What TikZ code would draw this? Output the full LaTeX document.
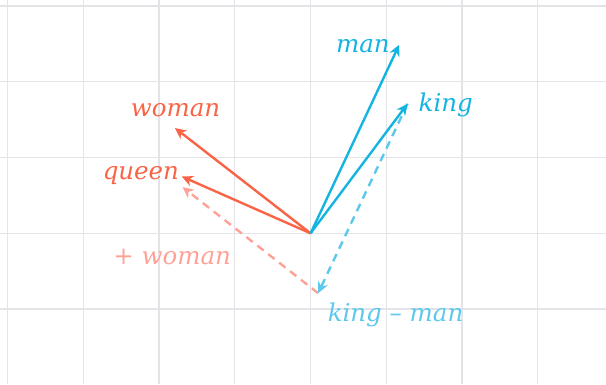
\documentclass[tikz,border=0pt]{standalone}
\usepackage{fontspec}
\setmainfont{DejaVu Serif}
\usepackage{tikz}
\usetikzlibrary{arrows.meta}
\definecolor{vgrid}{HTML}{E3E3E8}
\definecolor{vred}{HTML}{FA6446}
\definecolor{vblue}{HTML}{14B4E1}
\definecolor{vpink}{HTML}{FFA196}
\definecolor{vlblue}{HTML}{5CC8EC}
\tikzset{vvec/.style={-{Stealth[length=4.2pt, width=4pt]}, line width=0.9pt}}
\tikzset{vsum/.style={vvec, dashed, dash pattern=on 3pt off 2.2pt}}
\tikzset{vlabel/.style={font=\fontsize{9.2}{11}\selectfont\itshape, anchor=base west, inner sep=0pt}}

\begin{document}
\begin{tikzpicture}
  \useasboundingbox (-4.1,-1.99) rectangle (3.9,3.08);
  % grid
  \foreach \x in {-4,...,3} \draw[vgrid, line width=0.5pt] (\x,-1.99) -- (\x,3.08);
  \foreach \y in {-1,...,3} \draw[vgrid, line width=0.5pt] (-4.1,\y) -- (3.9,\y);

  \coordinate (o) at (0,0);
  \coordinate (man) at (1.17,2.49);
  \coordinate (king) at (1.28,1.71);
  \coordinate (woman) at (-1.79,1.39);
  \coordinate (queen) at (-1.70,0.75);
  \coordinate (kmm) at (0.10,-0.79);
  \coordinate (kmmw) at (-1.69,0.61);

  % sums
  \draw[vsum, vpink] (kmm) -- (kmmw);
  \draw[vsum, vlblue] (king) -- (kmm);

  % vectors
  \draw[vvec, vred] (o) -- (woman);
  \draw[vvec, vred] (o) -- (queen);
  \draw[vvec, vblue] (o) -- (man);
  \draw[vvec, vblue] (o) -- (king);

  % labels
  \node[vlabel, text=vblue] (lman) at (0.33,2.39) {man};
  \node[vlabel, text=vblue] (lking) at (1.42,1.61) {king};
  \node[vlabel, text=vred] (lwoman) at (-2.38,1.54) {woman};
  \node[vlabel, text=vred] (lqueen) at (-2.75,0.71) {queen};
  \node[vlabel, text=vpink] (lplus) at (-2.61,-0.41) {+ woman};
  \node[vlabel, text=vlblue] (lminus) at (0.22,-1.17) {king – man};
\end{tikzpicture}
\end{document}
